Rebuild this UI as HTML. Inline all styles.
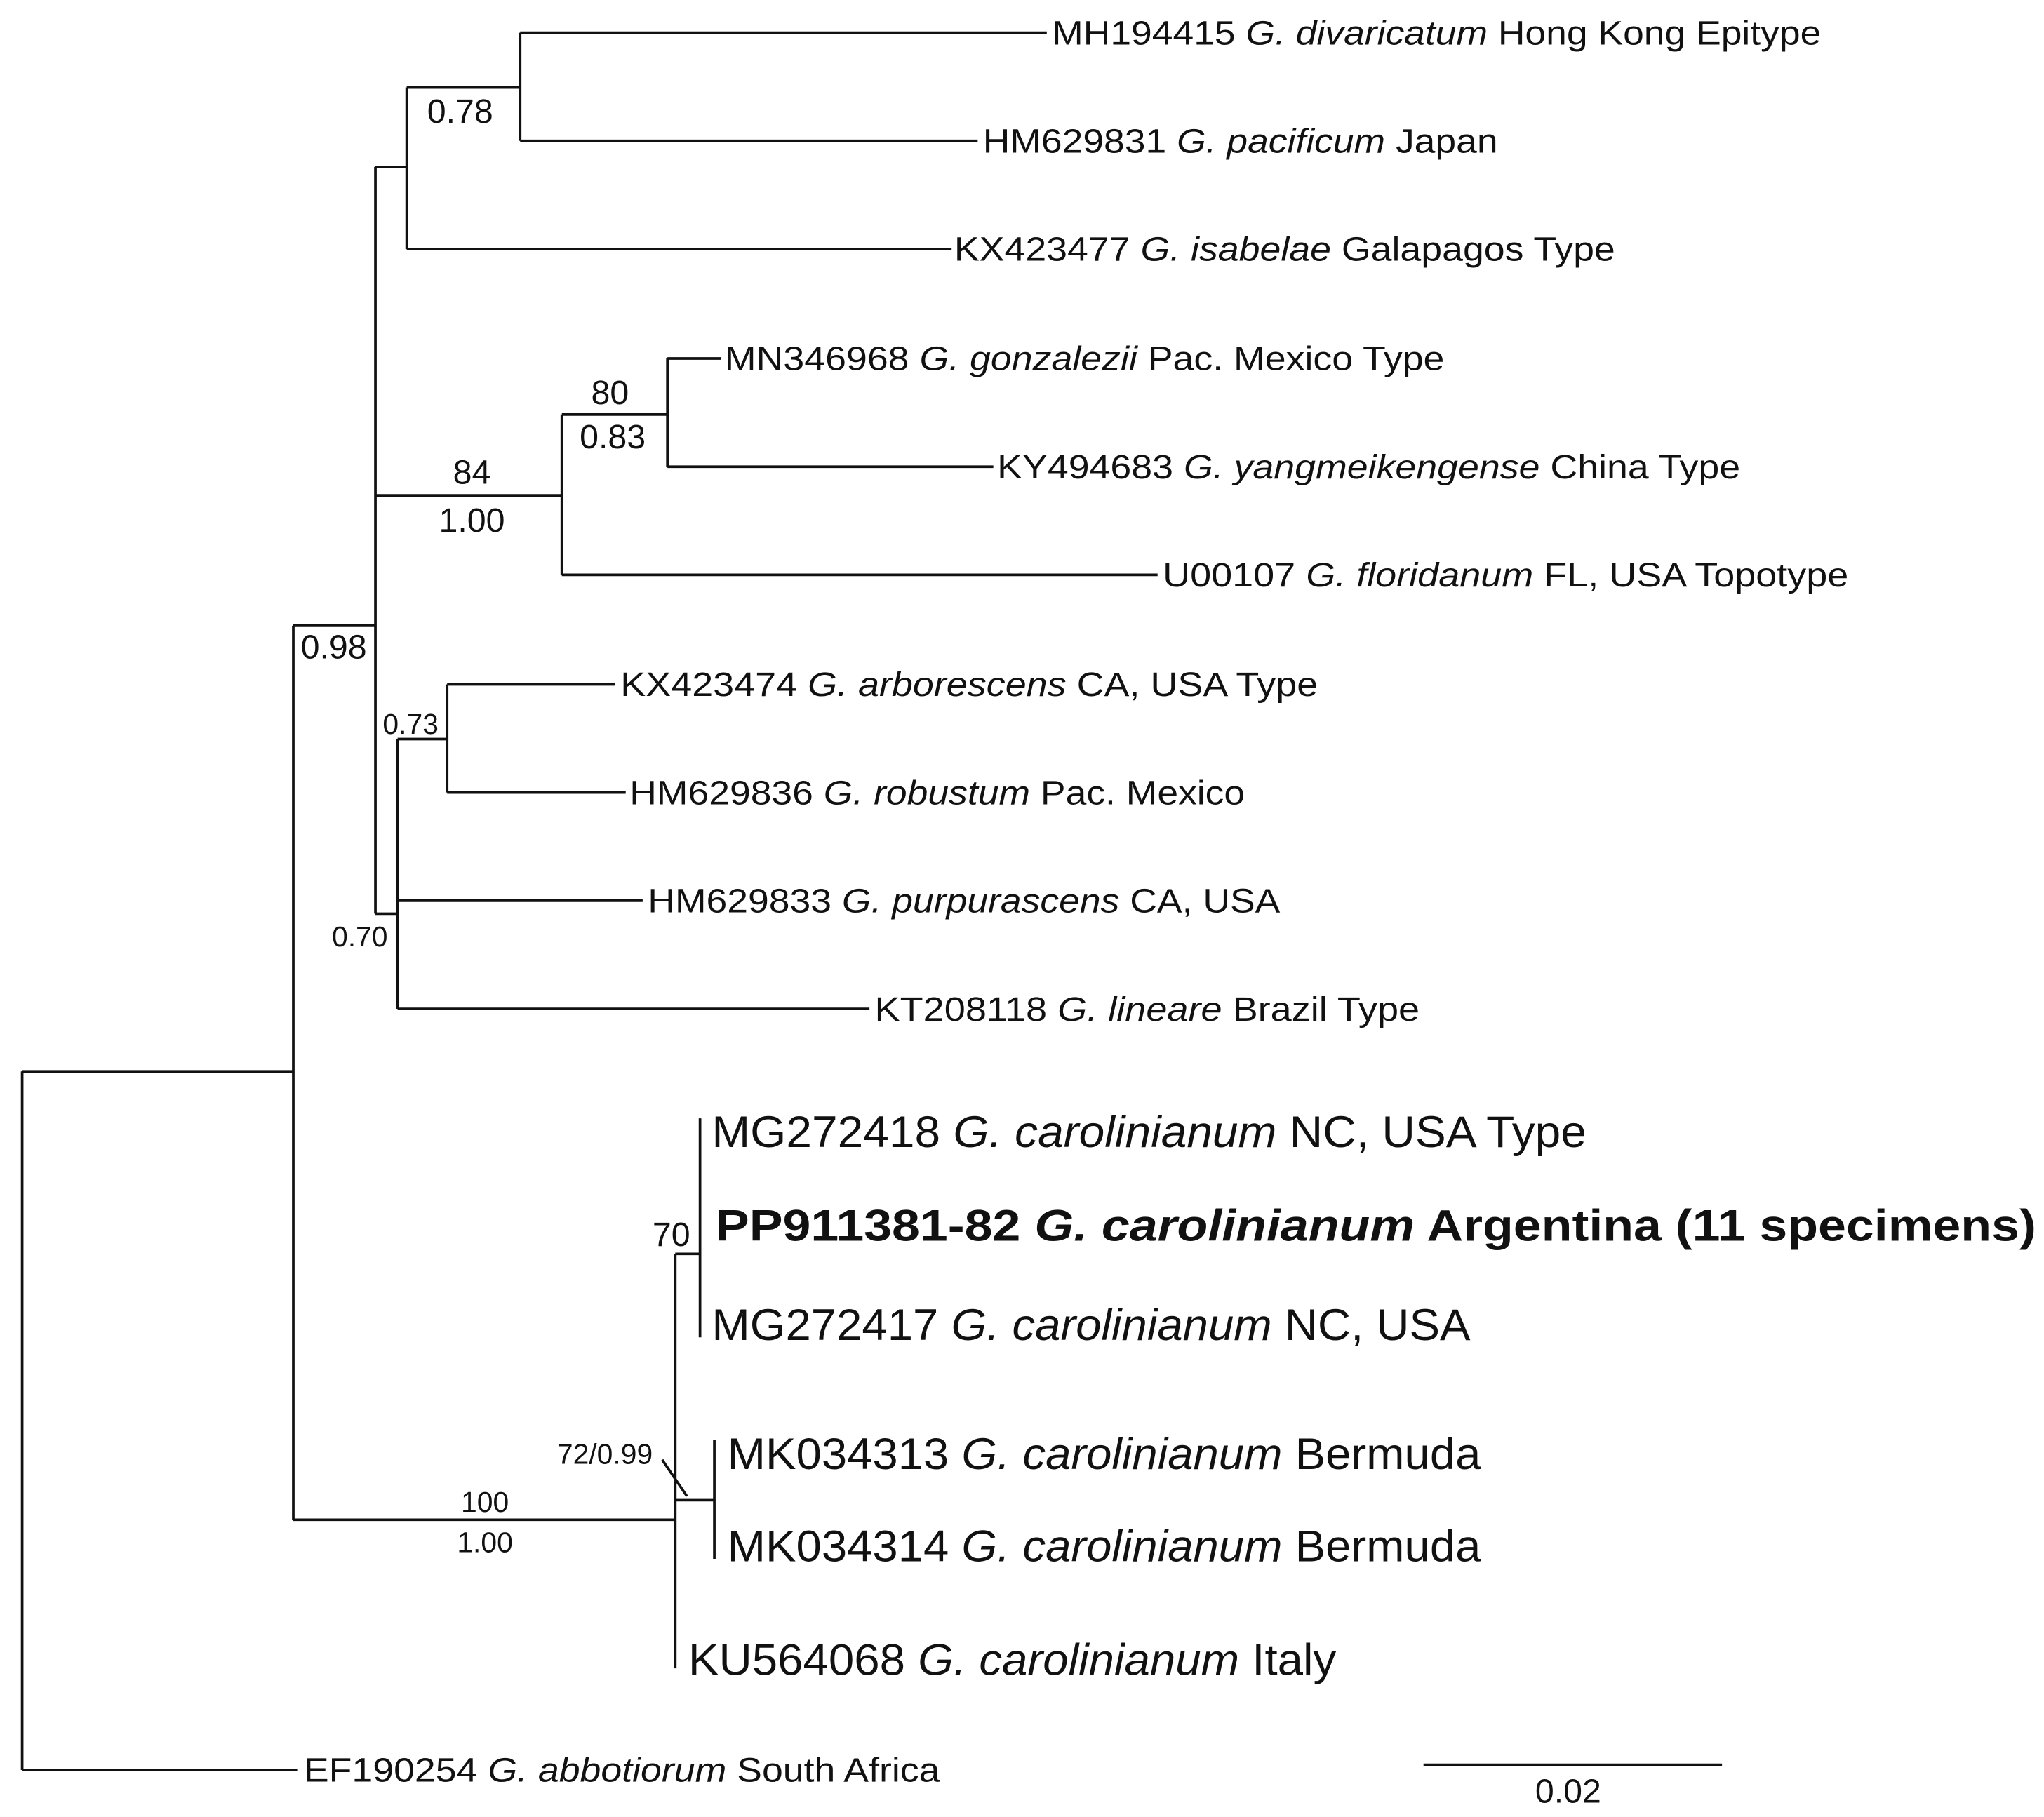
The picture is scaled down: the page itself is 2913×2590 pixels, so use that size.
<!DOCTYPE html>
<html><head><meta charset="utf-8"><style>html,body{margin:0;padding:0;background:#fff;}svg{display:block}</style></head>
<body>
<svg width="2913" height="2590" viewBox="0 0 1568 1394" xmlns="http://www.w3.org/2000/svg" font-family="Liberation Sans, Arial, sans-serif" fill="#111">
<g stroke="#111" stroke-width="2" fill="none">
<path d="M17 822V1358M17 822H225M17 1358H228"/>
<path d="M225 480V1166M225 480H288M225 1166H518"/>
<path d="M288 128V701M288 128H312M288 380H431M288 701H305"/>
<path d="M312 67V191M312 67H399M312 191H730"/>
<path d="M399 25V108M399 25H803M399 108H750"/>
<path d="M431 318V441M431 318H512M431 441H888"/>
<path d="M512 275V358M512 275H553M512 358H762"/>
<path d="M305 567V774M305 567H343M305 691H493M305 774H667"/>
<path d="M343 525V608M343 525H472M343 608H480"/>
<path d="M518 962V1280M518 962H537M518 1151H548"/>
<path d="M537 858V1026M548 1105V1196M508 1120L527 1148"/>
<path d="M1092 1354H1321"/>
</g>
<g font-size="26">
<text x="807" y="34" textLength="590" lengthAdjust="spacingAndGlyphs">MH194415 <tspan font-style="italic">G. divaricatum</tspan> Hong Kong Epitype</text>
<text x="754" y="117" textLength="395" lengthAdjust="spacingAndGlyphs">HM629831 <tspan font-style="italic">G. pacificum</tspan> Japan</text>
<text x="732" y="200" textLength="507" lengthAdjust="spacingAndGlyphs">KX423477 <tspan font-style="italic">G. isabelae</tspan> Galapagos Type</text>
<text x="556" y="284" textLength="552" lengthAdjust="spacingAndGlyphs">MN346968 <tspan font-style="italic">G. gonzalezii</tspan> Pac. Mexico Type</text>
<text x="765" y="367" textLength="570" lengthAdjust="spacingAndGlyphs">KY494683 <tspan font-style="italic">G. yangmeikengense</tspan> China Type</text>
<text x="892" y="450" textLength="526" lengthAdjust="spacingAndGlyphs">U00107 <tspan font-style="italic">G. floridanum</tspan> FL, USA Topotype</text>
<text x="476" y="534" textLength="535" lengthAdjust="spacingAndGlyphs">KX423474 <tspan font-style="italic">G. arborescens</tspan> CA, USA Type</text>
<text x="483" y="617" textLength="472" lengthAdjust="spacingAndGlyphs">HM629836 <tspan font-style="italic">G. robustum</tspan> Pac. Mexico</text>
<text x="497" y="700" textLength="485" lengthAdjust="spacingAndGlyphs">HM629833 <tspan font-style="italic">G. purpurascens</tspan> CA, USA</text>
<text x="671" y="783" textLength="418" lengthAdjust="spacingAndGlyphs">KT208118 <tspan font-style="italic">G. lineare</tspan> Brazil Type</text>
<text x="233" y="1367" textLength="488" lengthAdjust="spacingAndGlyphs">EF190254 <tspan font-style="italic">G. abbotiorum</tspan> South Africa</text>
</g>
<g font-size="34">
<text x="546" y="880" textLength="671" lengthAdjust="spacingAndGlyphs">MG272418 <tspan font-style="italic">G. carolinianum</tspan> NC, USA Type</text>
<text x="549" y="952" font-weight="bold" textLength="1013" lengthAdjust="spacingAndGlyphs">PP911381-82 <tspan font-style="italic">G. carolinianum</tspan> Argentina (11 specimens)</text>
<text x="546" y="1028" textLength="582" lengthAdjust="spacingAndGlyphs">MG272417 <tspan font-style="italic">G. carolinianum</tspan> NC, USA</text>
<text x="558" y="1127" textLength="578" lengthAdjust="spacingAndGlyphs">MK034313 <tspan font-style="italic">G. carolinianum</tspan> Bermuda</text>
<text x="558" y="1198" textLength="578" lengthAdjust="spacingAndGlyphs">MK034314 <tspan font-style="italic">G. carolinianum</tspan> Bermuda</text>
<text x="528" y="1285" textLength="497" lengthAdjust="spacingAndGlyphs">KU564068 <tspan font-style="italic">G. carolinianum</tspan> Italy</text>
</g>
<g text-anchor="middle" font-size="26">
<text x="353" y="94">0.78</text>
<text x="468" y="310">80</text>
<text x="470" y="344">0.83</text>
<text x="362" y="371">84</text>
<text x="362" y="408">1.00</text>
<text x="256" y="505">0.98</text>
<text x="515" y="956">70</text>
<text x="1203" y="1383">0.02</text>
</g>
<g text-anchor="middle" font-size="22">
<text x="315" y="563">0.73</text>
<text x="276" y="726">0.70</text>
<text x="464" y="1123">72/0.99</text>
<text x="372" y="1160">100</text>
<text x="372" y="1191">1.00</text>
</g>
</svg>
</body></html>
